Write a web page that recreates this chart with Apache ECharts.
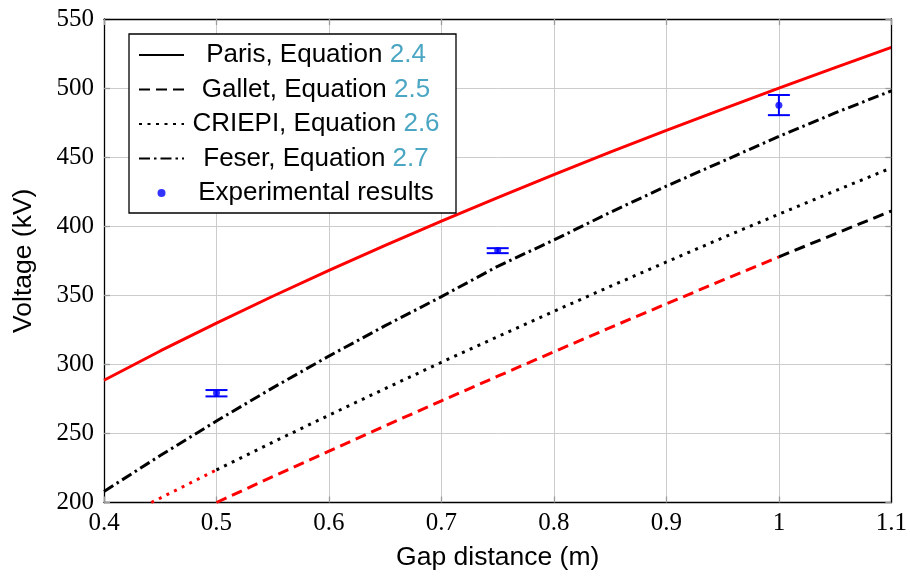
<!DOCTYPE html>
<html>
<head>
<meta charset="utf-8">
<script src="https://cdn.jsdelivr.net/npm/echarts@6/dist/echarts.min.js"></script>
<style>
html,body{margin:0;padding:0;background:#fff;}
#chart{width:910px;height:576px;}
</style>
</head>
<body>
<div id="chart"></div>
<script>
// ---- data ----
const gapParis  = [0.4, 0.45, 0.5, 0.55, 0.6, 0.65, 0.7, 0.75, 0.8, 0.85, 0.9, 0.95, 1.0, 1.05, 1.1];
const voltParis = [288.5, 309.7, 329.9, 349.3, 368.0, 386.1, 403.7, 420.7, 437.4, 453.6, 469.4, 484.8, 500.0, 514.8, 529.4];

const gapGallet  = [0.5, 0.55, 0.6, 0.65, 0.7, 0.75, 0.8, 0.85, 0.9, 0.95, 1.0, 1.05, 1.1];
const voltGallet = [200.0, 218.7, 237.2, 255.5, 273.6, 291.4, 309.1, 326.6, 343.8, 360.9, 377.8, 394.5, 411.0];

const gapCriepi  = [0.442, 0.45, 0.5, 0.55, 0.6, 0.65, 0.7, 0.75, 0.8, 0.85, 0.9, 0.95, 1.0, 1.05, 1.1];
const voltCriepi = [200.0, 203.2, 223.6, 243.6, 263.2, 282.5, 301.5, 320.1, 338.4, 356.4, 374.1, 391.6, 408.7, 425.6, 442.2];

const gapFeser  = [0.4, 0.45, 0.5, 0.55, 0.6, 0.65, 0.7, 0.75, 0.8, 0.85, 0.9, 0.95, 1.0, 1.05, 1.1];
const voltFeser = [208, 234, 259, 283, 306, 328, 349, 371, 390, 410, 429, 447, 465, 482, 498];

const expGap  = [0.5, 0.75, 1.0];
const expMean = [279.2, 382.4, 487.6];
const expLow  = [276.8, 380.5, 480.4];
const expHigh = [281.4, 384.1, 495.0];

// x ranges where the model curve is drawn red (validity range), black elsewhere
const galletRedMax = 1.0;
const criepiRedMax = 0.5;

const seriesNames = [
  'Paris, Equation 2.4',
  'Gallet, Equation 2.5',
  'CRIEPI, Equation 2.6',
  'Feser, Equation 2.7',
  'Experimental results'
];

// ---- helpers ----
const pairs = (xs, ys) => xs.map((x, i) => [x, ys[i]]);
const upTo = (xs, ys, lim) => pairs(xs, ys).filter(p => p[0] <= lim + 1e-9);
const from = (xs, ys, lim) => pairs(xs, ys).filter(p => p[0] >= lim - 1e-9);

const RED = '#ff0000', BLACK = '#000000', BLUE = '#0000ff';
const LW = 3;
const DASH = [11, 6];
const DOT = [3, 5.5];
const DASHDOT = [11, 4, 2.5, 4];

function lineSeries(name, data, color, type) {
  return {
    name, type: 'line', data, symbol: 'none', smooth: false,
    lineStyle: { color, width: LW, type, cap: 'butt' },
    itemStyle: { color },
    z: 3, silent: true
  };
}

const sansFont = '"Liberation Sans", Arial, Helvetica, sans-serif';
const serifFont = '"Liberation Serif", "Times New Roman", serif';

const chart = echarts.init(document.getElementById('chart'), null, { renderer: 'canvas' });

const option = {
  animation: false,
  backgroundColor: '#ffffff',
  grid: { left: 104, right: 18, top: 19, bottom: 71, containLabel: false },
  xAxis: [
    {
      type: 'value', min: 0.4, max: 1.1, interval: 0.1,
      name: 'Gap distance (m)', nameLocation: 'middle', nameGap: 55,
      nameTextStyle: { fontFamily: sansFont, fontSize: 26.5, color: '#000', verticalAlign: 'middle' },
      axisLine: { show: true, onZero: false, lineStyle: { color: '#000', width: 1.3 } },
      axisTick: { show: true, inside: true, length: 6, lineStyle: { color: '#9a9a9a', width: 1.3 } },
      axisLabel: { fontFamily: serifFont, fontSize: 25, color: '#000', margin: 8 },
      splitLine: { show: true, showMinLine: false, showMaxLine: false, lineStyle: { color: '#cccccc', width: 1 } }
    },
    {
      type: 'value', position: 'top', min: 0.4, max: 1.1, interval: 0.1, z: 5,
      axisLine: { show: true, onZero: false, lineStyle: { color: '#000', width: 1.3 } },
      axisTick: { show: true, inside: true, length: 6, lineStyle: { color: '#9a9a9a', width: 1.3 } },
      axisLabel: { show: false }, splitLine: { show: false }
    }
  ],
  yAxis: [
    {
      type: 'value', min: 200, max: 550, interval: 50,
      name: 'Voltage (kV)', nameLocation: 'middle', nameGap: 80, nameRotate: 90,
      nameTextStyle: { fontFamily: sansFont, fontSize: 26.5, color: '#000', verticalAlign: 'middle' },
      axisLine: { show: true, onZero: false, lineStyle: { color: '#000', width: 1.3 } },
      axisTick: { show: true, inside: true, length: 6, lineStyle: { color: '#9a9a9a', width: 1.3 } },
      axisLabel: { fontFamily: serifFont, fontSize: 25, color: '#000', margin: 10 },
      splitLine: { show: true, showMinLine: false, showMaxLine: false, lineStyle: { color: '#cccccc', width: 1 } }
    },
    {
      type: 'value', position: 'right', min: 200, max: 550, interval: 50, z: 5,
      axisLine: { show: true, onZero: false, lineStyle: { color: '#000', width: 1.3 } },
      axisTick: { show: true, inside: true, length: 6, lineStyle: { color: '#9a9a9a', width: 1.3 } },
      axisLabel: { show: false }, splitLine: { show: false }
    }
  ],
  legend: {
    orient: 'vertical', left: 129, top: 34,
    padding: [8, 13, 7, 9],
    itemWidth: 45, itemHeight: 8, itemGap: 8.5, itemTextGap: 7,
    backgroundColor: '#ffffff', borderColor: '#000', borderWidth: 1.3, borderRadius: 0,
    selectedMode: false,
    data: [
      { name: seriesNames[0], lineStyle: { color: BLACK }, itemStyle: { color: BLACK, opacity: 0 } },
      { name: seriesNames[1], lineStyle: { color: BLACK }, itemStyle: { color: BLACK, opacity: 0 } },
      { name: seriesNames[2], lineStyle: { color: BLACK }, itemStyle: { color: BLACK, opacity: 0 } },
      { name: seriesNames[3], lineStyle: { color: BLACK }, itemStyle: { color: BLACK, opacity: 0 } },
      { name: seriesNames[4], icon: 'circle', itemStyle: { color: BLUE } }
    ],
    formatter: function (name) {
      const m = name.match(/^(.*) (\d+\.\d+)$/);
      if (m) return '{a|' + m[1] + ' }{b|' + m[2] + '}';
      return '{a|' + name + '}';
    },
    textStyle: {
      width: 254, lineHeight: 25.5,
      fontFamily: sansFont, fontSize: 26, color: '#000',
      rich: {
        a: { fontFamily: sansFont, fontSize: 26, color: '#000', align: 'center', lineHeight: 25.5 },
        b: { fontFamily: sansFont, fontSize: 26, color: '#4aa6c2', align: 'center', lineHeight: 25.5 }
      }
    }
  },
  series: [
    lineSeries(seriesNames[0], pairs(gapParis, voltParis), RED, 'solid'),
    lineSeries(seriesNames[1], upTo(gapGallet, voltGallet, galletRedMax), RED, DASH),
    lineSeries(seriesNames[1], from(gapGallet, voltGallet, galletRedMax), BLACK, DASH),
    lineSeries(seriesNames[2], upTo(gapCriepi, voltCriepi, criepiRedMax), RED, DOT),
    lineSeries(seriesNames[2], from(gapCriepi, voltCriepi, criepiRedMax), BLACK, DOT),
    lineSeries(seriesNames[3], pairs(gapFeser, voltFeser), BLACK, DASHDOT),
    {
      name: 'errorbars', type: 'custom', silent: true, z: 4,
      data: expGap.map((x, i) => [x, expLow[i], expHigh[i]]),
      encode: { x: 0, y: [1, 2] },
      renderItem: function (params, api) {
        const lo = api.coord([api.value(0), api.value(1)]);
        const hi = api.coord([api.value(0), api.value(2)]);
        const hw = 11;
        const st = { stroke: BLUE, lineWidth: 2 };
        return {
          type: 'group',
          children: [
            { type: 'line', shape: { x1: lo[0], y1: lo[1], x2: hi[0], y2: hi[1] }, style: st },
            { type: 'line', shape: { x1: lo[0] - hw, y1: lo[1], x2: lo[0] + hw, y2: lo[1] }, style: st },
            { type: 'line', shape: { x1: hi[0] - hw, y1: hi[1], x2: hi[0] + hw, y2: hi[1] }, style: st }
          ]
        };
      }
    },
    {
      name: seriesNames[4], type: 'scatter', silent: true, z: 5,
      data: pairs(expGap, expMean),
      symbol: 'circle', symbolSize: 7,
      itemStyle: { color: BLUE }
    }
  ]
};

chart.setOption(option);
</script>
</body>
</html>
